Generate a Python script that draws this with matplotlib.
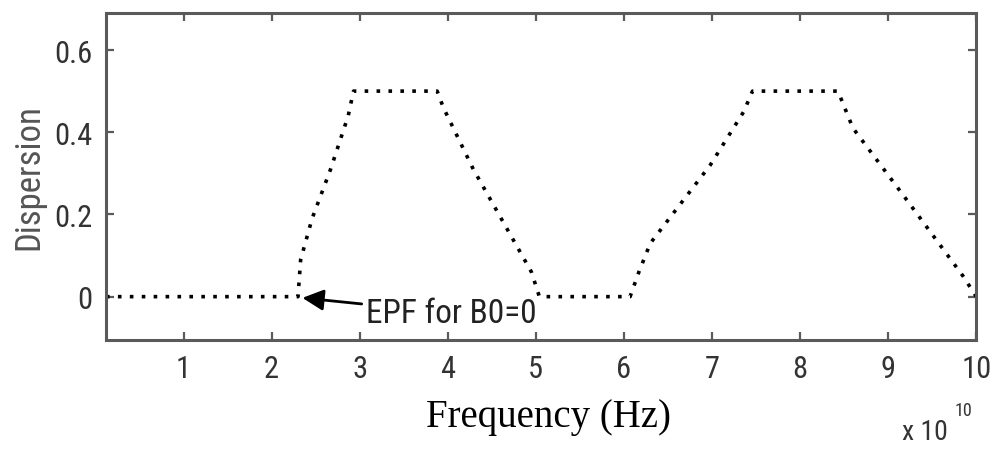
import matplotlib
matplotlib.use("Agg")
import matplotlib.pyplot as plt
import numpy as np

# EPF dispersion curve (frequency in Hz)
freq_hz = [0.12e10, 2.30e10, 2.33e10, 2.46e10, 2.67e10, 2.87e10, 2.93e10,
           3.88e10, 3.95e10, 4.29e10, 4.95e10, 5.04e10,
           6.07e10, 6.17e10, 6.30e10, 6.98e10, 7.36e10, 7.46e10,
           8.43e10, 8.60e10, 9.16e10, 9.85e10, 10.0e10]
dispersion = [0, 0, 0.09, 0.19, 0.31, 0.44, 0.5,
              0.5, 0.46, 0.31, 0.06, 0,
              0, 0.06, 0.13, 0.32, 0.45, 0.5,
              0.5, 0.41, 0.25, 0.05, 0]

x_ticks = [1, 2, 3, 4, 5, 6, 7, 8, 9, 10]
y_ticks = [0, 0.2, 0.4, 0.6]
y_tick_labels = ["0", "0.2", "0.4", "0.6"]

sans = ["Roboto Condensed", "DejaVu Sans"]
frame_col = "#5a5a5a"
text_col = "#333333"

fig = plt.figure(figsize=(9.98, 4.52), dpi=100)
ax = fig.add_axes([0.1062, 0.246, 0.872, 0.723])

x = np.array(freq_hz) / 1e10
ax.plot(x, dispersion, color="black", linewidth=2.6, linestyle=(0, (1, 2.3)))

ax.set_xlim(0.12, 10)
ax.set_ylim(-0.105, 0.69)
ax.set_xticks(x_ticks)
ax.set_xticklabels([str(t) for t in x_ticks])
ax.set_yticks(y_ticks)
ax.set_yticklabels(y_tick_labels)

for sp in ax.spines.values():
    sp.set_color(frame_col)
    sp.set_linewidth(2.2)
ax.tick_params(direction="in", length=6, width=1.6, color=frame_col,
               top=True, right=True, labelsize=22, labelcolor=text_col, pad=10)
for lab in ax.get_xticklabels() + ax.get_yticklabels():
    lab.set_family(sans)

ax.set_ylabel("Dispersion", family=sans, fontsize=25, color="#555555", labelpad=6)

# annotation arrow pointing at the EPF onset
ax.annotate("EPF for B0=0", xy=(2.35, -0.003), xytext=(3.07, -0.04),
            ha="left", va="center", fontsize=24, family=sans, color="#222222",
            arrowprops=dict(arrowstyle="-|>", color="black", lw=2,
                            mutation_scale=32, shrinkA=1, shrinkB=0))

fig.text(0.550, 0.055, "Frequency (Hz)", ha="center", va="baseline",
         fontsize=28, family="Liberation Serif", color="black")
fig.text(0.904, 0.044, "x 10", ha="left", va="center", fontsize=20,
         family=sans, color=text_col)
fig.text(0.956, 0.091, "10", ha="left", va="center", fontsize=13,
         family=sans, color=text_col)

fig.savefig("out.png", dpi=100)
